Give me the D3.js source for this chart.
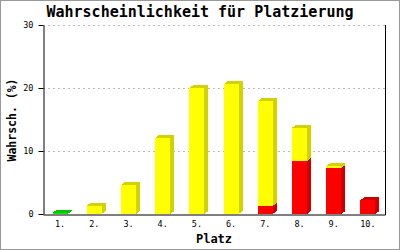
<!DOCTYPE html>
<html>
<head>
<meta charset="utf-8">
<script src="https://cdn.jsdelivr.net/npm/d3@7"></script>
<style>
  body { margin: 0; background: #fff; }
  svg { display: block; }
</style>
</head>
<body>
<div class="chart"></div>
<script>
// values (percent)
const places = ['1.','2.','3.','4.','5.','6.','7.','8.','9.','10.']
const green  = [0.2, 0, 0, 0, 0, 0, 0, 0, 0, 0]
const red    = [0, 0, 0, 0, 0, 0, 1.3, 8.4, 7.3, 2.2]
const yellow = [0, 1.3, 4.6, 12.1, 20.0, 20.6, 16.6, 5.3, 0.3, 0]
const yTicks = [0, 10, 20, 30]

let w = 400,
    h = 250

const colors = {
  green:  ['#00ee00', '#00c800'],
  red:    ['#ff0000', '#cc0000'],
  yellow: ['#ffff00', '#d2d200']
}

const rows = places.map((p, i) => ({place: p, green: green[i], red: red[i], yellow: yellow[i]}))
const series = d3.stack().keys(['green','red','yellow'])(rows)

const svg = d3.select('.chart')
              .append('svg')
              .attr('width', w)
              .attr('height', h)

svg.append('rect')
   .attr('x', 0.5).attr('y', 0.5)
   .attr('width', w - 1).attr('height', h - 1)
   .attr('fill', '#fff')
   .attr('stroke', '#999')

const x = d3.scaleBand()
            .domain(places)
            .range([43, 385])
            .paddingInner(0.56)
            .paddingOuter(0.28)

const y = d3.scaleLinear()
            .domain([0, 30])
            .range([214, 25])

const mono = '"DejaVu Sans Mono", monospace'

// grid
svg.append('g')
   .selectAll('line')
   .data(yTicks.filter(t => t > 0))
   .enter()
   .append('line')
   .attr('x1', 43).attr('x2', 385)
   .attr('y1', d => y(d) + 0.5).attr('y2', d => y(d) + 0.5)
   .attr('stroke', '#bbb')
   .attr('stroke-dasharray', '2,3')

// bars, each segment a little 3D block
const dx = 4, dy = 3
series.forEach(s => {
  const g = svg.append('g').attr('shape-rendering', 'crispEdges')
  s.forEach((d, i) => {
    if (d[1] - d[0] <= 0) return
    const x0 = x(places[i]), bw = x.bandwidth()
    const yt = y(d[1]), yb = y(d[0])
    g.append('polygon')
     .attr('points', [
        [x0, yt], [x0 + dx, yt - dy], [x0 + bw + dx, yt - dy],
        [x0 + bw + dx, yb - dy], [x0 + bw, yb], [x0 + bw, yt]
      ].map(p => p.join(',')).join(' '))
     .attr('fill', colors[s.key][1])
    g.append('rect')
     .attr('x', x0).attr('y', yt)
     .attr('width', bw).attr('height', yb - yt)
     .attr('fill', colors[s.key][0])
  })
})

// axes
const yAxis = svg.append('g')
   .attr('transform', 'translate(43.5,0)')
   .call(d3.axisLeft(y).tickValues(yTicks).tickSize(5).tickSizeOuter(0).tickPadding(5))
yAxis.selectAll('text').style('font-family', mono).style('font-size', '8.5px').attr('fill', '#000')

const xAxis = svg.append('g')
   .attr('transform', 'translate(0,214.5)')
   .call(d3.axisBottom(x).tickSize(0).tickPadding(6))
xAxis.selectAll('text').style('font-family', mono).style('font-size', '8.5px').attr('fill', '#000')

svg.append('line')
   .attr('x1', 385.5).attr('x2', 385.5)
   .attr('y1', 25).attr('y2', 215)
   .attr('stroke', '#000')

// titles
svg.append('text')
   .text('Wahrscheinlichkeit für Platzierung')
   .attr('x', 200).attr('y', 17)
   .attr('text-anchor', 'middle')
   .style('font-family', mono).style('font-weight', 'bold').style('font-size', '15px')

svg.append('text')
   .text('Platz')
   .attr('x', 214).attr('y', 243)
   .attr('text-anchor', 'middle')
   .style('font-family', mono).style('font-weight', 'bold').style('font-size', '12px')

svg.append('text')
   .text('Wahrsch. (%)')
   .attr('transform', 'translate(16,120) rotate(-90)')
   .attr('text-anchor', 'middle')
   .style('font-family', mono).style('font-weight', 'bold').style('font-size', '11.5px')
</script>
</body>
</html>
